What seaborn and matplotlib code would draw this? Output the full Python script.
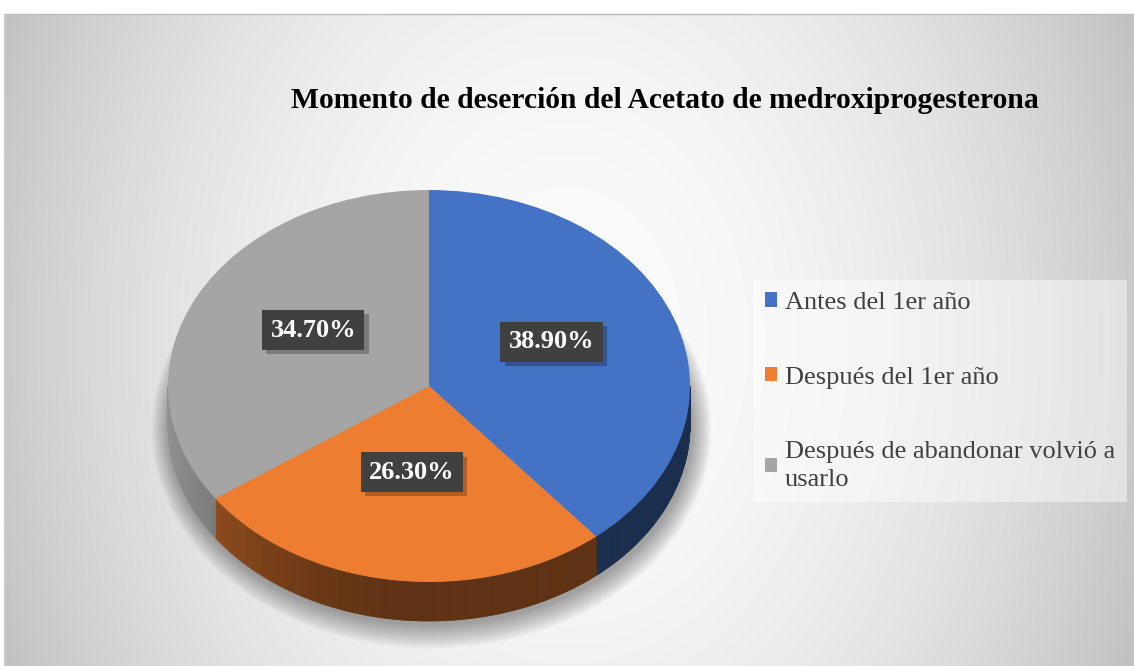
import numpy as np
import matplotlib
matplotlib.use("Agg")
import matplotlib.pyplot as plt
import matplotlib.patheffects as pe
from matplotlib.patches import Patch, Ellipse
from matplotlib.lines import Line2D
import seaborn as sns

# ---- data ----
categories = ["Antes del 1er año", "Después del 1er año",
              "Después de abandonar volvió a\nusarlo"]
values = [38.90, 26.30, 34.70]
title = "Momento de deserción del Acetato de medroxiprogesterona"

# ---- style ----
colors = ["#4472C4", "#ED7D31", "#A5A5A5"]
side_gain = [1.0, 1.0, 1.25]

sns.set_theme(style="white")
plt.rcParams['font.family'] = ['Liberation Serif', 'DejaVu Serif']

W, H = 1134, 666
fig = plt.figure(figsize=(W / 100, H / 100), dpi=100)

# background radial gradient
bg = fig.add_axes([4 / W, 0, 1 - 4 / W, (H - 14) / H])
yy, xx = np.mgrid[14:H, 4:W]
r2 = ((xx - 567) / 600.0) ** 2 + ((yy - 340) / 800.0) ** 2
val = np.clip(251 - 55 * r2, 185, 252) / 255.0
bg.imshow(np.dstack([val, val, val]), aspect='auto', interpolation='bilinear')
bg.axis('off')
fig.add_artist(Line2D([4 / W, 1], [1 - 14 / H, 1 - 14 / H], color='#bdbdbd', lw=1,
                      transform=fig.transFigure))
fig.add_artist(Line2D([4 / W, 4 / W], [0, 1 - 14 / H], color='#d0d0d0', lw=1,
                      transform=fig.transFigure))

# pie axes (elliptical, pseudo-3D)
cx, cy, rx, ry, th = 429, 386, 261, 196, 39
t = th / ry
ax = fig.add_axes([(cx - rx) / W, (H - (cy + ry + th)) / H, 2 * rx / W, (2 * ry + th) / H])

total = float(np.sum(values))
wedges, texts, autotexts = ax.pie(
    values, colors=colors, startangle=90, counterclock=False,
    autopct=lambda p: f'{p * total / 100:.2f}%', pctdistance=0.5,
    wedgeprops=dict(linewidth=0, zorder=3),
    textprops=dict(color='white', fontsize=19, fontweight='bold'))
ax.set_aspect('auto')
ax.set_xlim(-1, 1)
ax.set_ylim(-1 - t, 1)
ax.axis('off')

# soft shadow
for s in np.linspace(0.12, 0.0, 16):
    ax.add_patch(Ellipse((0.01, -t * 1.1), 2 * (1 + s * 0.6), 2 * (1 + s), color='black',
                         alpha=0.022, lw=0, zorder=0, clip_on=False))

# side walls
cum = np.concatenate([[0], np.cumsum(values)]) / total * 360.0
for i, c in enumerate(colors):
    a1 = 90 - cum[i]
    a2 = 90 - cum[i + 1]
    lo, hi = a2, a1
    for shift in (0, -360):
        l, h = max(lo + shift, -180), min(hi + shift, 0)
        if h <= l:
            continue
        angs = np.linspace(l, h, max(int((h - l) * 2), 2))
        rgb = np.array(matplotlib.colors.to_rgb(c))
        for k in range(len(angs) - 1):
            a, b = np.radians(angs[k]), np.radians(angs[k + 1])
            m = 0.5 * (a + b)
            g = (0.4 + 0.3 * max(0.0, -np.cos(m)) ** 2) * side_gain[i]
            col = np.clip(rgb * g, 0, 1)
            ax.fill([np.cos(a), np.cos(b), np.cos(b), np.cos(a)],
                    [np.sin(a), np.sin(b), np.sin(b) - t, np.sin(a) - t],
                    color=col, lw=0.6, ec=col, zorder=2, clip_on=False)

for at in autotexts:
    x0, y0 = at.get_position()
    at.set_position((x0, y0 + 0.055))
    at.set_zorder(5)
    at.set_bbox(dict(boxstyle='square,pad=0.32', fc='#404040', ec='none'))
    at.get_bbox_patch().set_path_effects(
        [pe.SimplePatchShadow(offset=(3, -3), shadow_rgbFace='black', alpha=0.25), pe.Normal()])

# title
fig.text(665 / W, 1 - 100 / H, title, ha='center', va='center', fontsize=21.3,
         fontweight='bold', color='black')

# legend
handles = [Patch(facecolor=c, edgecolor='none') for c in colors]
leg = fig.legend(handles, categories, loc='upper left', bbox_to_anchor=(753 / W, 1 - 280 / H),
                 frameon=True, fancybox=False, facecolor='white', framealpha=0.45,
                 edgecolor='none', fontsize=19, labelcolor='#404040',
                 handlelength=0.45, handleheight=0.45, handletextpad=0.3,
                 labelspacing=2.0, borderpad=0.45, borderaxespad=0)
for txt in leg.get_texts():
    txt.set_linespacing(1.3)

fig.savefig('out.png', dpi=100)
